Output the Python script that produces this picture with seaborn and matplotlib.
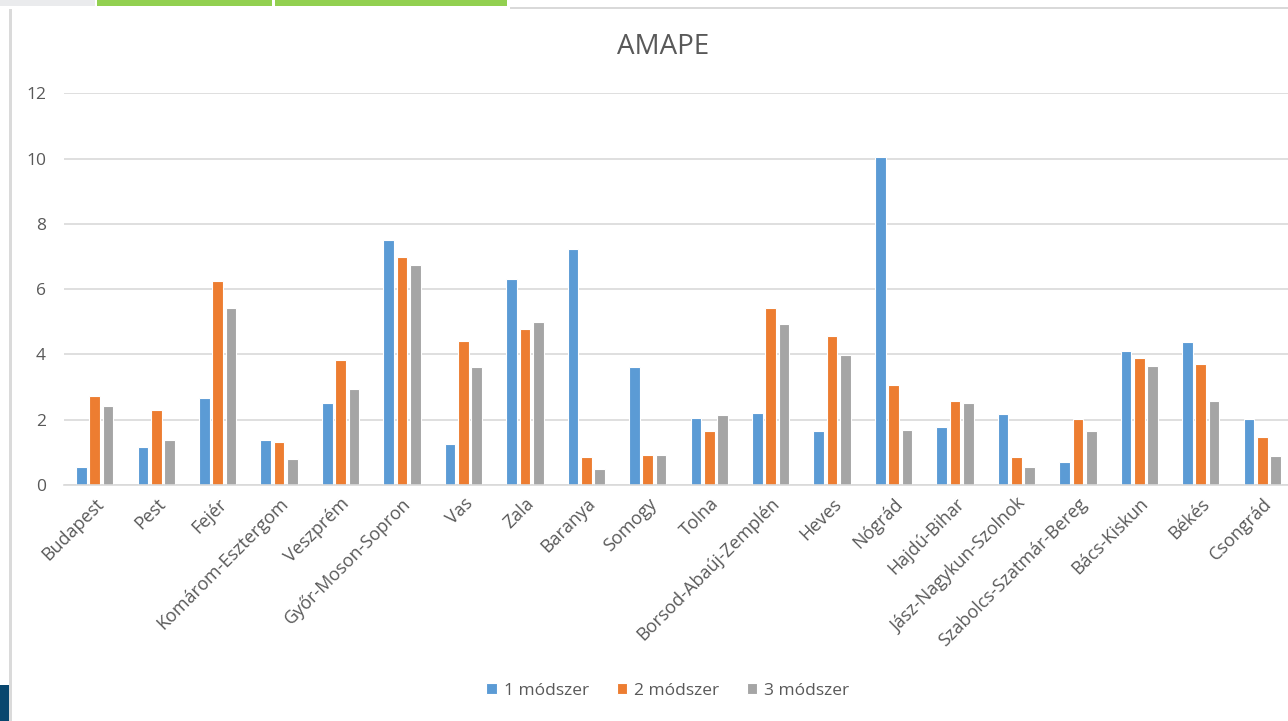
import matplotlib
matplotlib.use("Agg")
import matplotlib.pyplot as plt
from matplotlib.patches import Rectangle
import seaborn as sns
import pandas as pd

# County names (x axis)
counties = [
    "Budapest", "Pest", "Fejér", "Komárom-Esztergom", "Veszprém",
    "Győr-Moson-Sopron", "Vas", "Zala", "Baranya", "Somogy", "Tolna",
    "Borsod-Abaúj-Zemplén", "Heves", "Nógrád", "Hajdú-Bihar",
    "Jász-Nagykun-Szolnok", "Szabolcs-Szatmár-Bereg", "Bács-Kiskun",
    "Békés", "Csongrád",
]

# AMAPE values for the three methods
method_1 = [0.55, 1.17, 2.68, 1.37, 2.52, 7.52, 1.27, 6.30, 7.22, 3.60,
            2.05, 2.22, 1.64, 10.06, 1.78, 2.18, 0.70, 4.10, 4.38, 2.01]
method_2 = [2.72, 2.31, 6.24, 1.33, 3.83, 6.98, 4.40, 4.79, 0.85, 0.92,
            1.64, 5.42, 4.58, 3.07, 2.56, 0.86, 2.01, 3.88, 3.70, 1.47]
method_3 = [2.41, 1.37, 5.42, 0.79, 2.93, 6.74, 3.60, 4.98, 0.49, 0.92,
            2.15, 4.92, 3.98, 1.68, 2.52, 0.55, 1.65, 3.64, 2.56, 0.90]

series_names = ["1 módszer", "2 módszer", "3 módszer"]
series_colors = ["#5B9BD5", "#ED7D31", "#A5A5A5"]
y_ticks = [0, 2, 4, 6, 8, 10, 12]

df = pd.DataFrame({
    "megye": counties * 3,
    "érték": method_1 + method_2 + method_3,
    "módszer": sum([[n] * len(counties) for n in series_names], []),
})

sns.set_theme(style="white")
plt.rcParams["font.family"] = ["Open Sans", "DejaVu Sans"]

W, H = 1288, 721
fig = plt.figure(figsize=(W / 100, H / 100), dpi=100)
fig.patch.set_facecolor("white")

def px_rect(x0, y0, x1, y1, color):
    fig.patches.append(Rectangle((x0 / W, 1 - y1 / H), (x1 - x0) / W, (y1 - y0) / H,
                                 transform=fig.transFigure, facecolor=color,
                                 edgecolor="none", zorder=0))

# Window frame details around the chart area
px_rect(0, 0, 95, 6, "#EAEBED")
px_rect(97, 0, 272, 6, "#92D050")
px_rect(275, 0, 507, 6, "#92D050")
px_rect(510, 7, W, 9, "#D9D9D9")
px_rect(9, 9, 12, H, "#DADADA")
px_rect(0, 685, 9, H, "#08466E")

ax = fig.add_axes([64 / W, 1 - 485 / H, (1293 - 64) / W, (485 - 93.3) / H])

sns.barplot(data=df, x="megye", y="érték", hue="módszer", palette=series_colors,
            width=0.65, gap=0.2, edgecolor="white", linewidth=0.8,
            saturation=1, ax=ax, legend=True)

ax.set_ylim(0, 12)
ax.set_xlim(-0.5, len(counties) - 0.5)
ax.set_yticks(y_ticks)
ax.set_yticklabels([str(t) for t in y_ticks])
ax.yaxis.grid(True, color="#D9D9D9", linewidth=1.2)
ax.set_axisbelow(True)
for s in ["left", "right", "top"]:
    ax.spines[s].set_visible(False)
ax.spines["bottom"].set_color("#D9D9D9")
ax.spines["bottom"].set_linewidth(1.2)
ax.set_xlabel("")
ax.set_ylabel("")
ax.tick_params(axis="y", length=0, pad=13, labelsize=12.5, labelcolor="#595959")
ax.tick_params(axis="x", length=0, pad=7, labelsize=13, labelcolor="#595959")
for lab in ax.get_xticklabels():
    lab.set_rotation(45)
    lab.set_ha("right")
    lab.set_rotation_mode("anchor")

fig.text(663 / W, 1 - 47 / H, "AMAPE", ha="center", va="center",
         fontsize=20, color="#595959")

leg = ax.legend(loc="center", bbox_to_anchor=(668 / W, 1 - 691 / H),
                bbox_transform=fig.transFigure, ncol=3, frameon=False,
                fontsize=12.5, handlelength=0.6, handleheight=0.6,
                handletextpad=0.4, columnspacing=1.6)
for t in leg.get_texts():
    t.set_color("#595959")

fig.savefig("out.png", dpi=100, facecolor="white")
